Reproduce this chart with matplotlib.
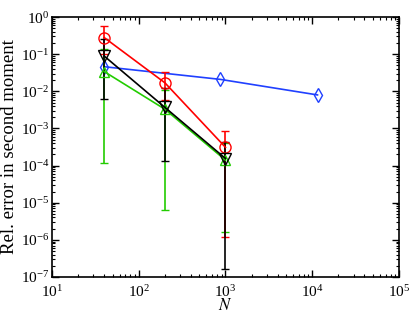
import numpy as np
import matplotlib.pyplot as plt

# data
N_main = [40, 200, 1000]
N_blue = [40, 870, 11500]

red_val = [0.28, 0.017, 3.1e-4]
red_lo = [0.10, 6e-3, 1.2e-6]
red_hi = [0.58, 0.034, 8.7e-4]

black_val = [0.089, 3.7e-3, 1.55e-4]
black_lo = [6.2e-3, 1.35e-4, 1.6e-7]
black_hi = [0.25, 0.012, 4.4e-4]

green_val = [0.034, 3.3e-3, 1.4e-4]
green_lo = [1.2e-4, 6.3e-6, 1.6e-6]
green_hi = [0.14, 0.011, 4.0e-4]

blue_val = [0.046, 0.021, 0.008]

plt.rcParams['font.family'] = ['Liberation Serif', 'DejaVu Serif']
plt.rcParams['mathtext.fontset'] = 'stix'

fig = plt.figure(figsize=(4.15, 3.22), dpi=100)
ax = fig.add_axes([0.1253, 0.1398, 0.8361, 0.8072])

def errs(val, lo, hi):
    val = np.array(val)
    return [val - np.array(lo), np.array(hi) - val]

ax.plot(N_blue, blue_val, '-d', color='#2040ff', mfc='none', ms=7, lw=1.2)
ax.errorbar(N_main, green_val, yerr=errs(green_val, green_lo, green_hi), fmt='-^',
            color='#22cc00', mfc='none', ms=7, lw=1.2, capsize=3)
ax.errorbar(N_main, red_val, yerr=errs(red_val, red_lo, red_hi), fmt='-o',
            color='red', mfc='none', ms=8, lw=1.2, capsize=3)
ax.errorbar(N_main, black_val, yerr=errs(black_val, black_lo, black_hi), fmt='-v',
            color='black', mfc='none', ms=8, lw=1.2, capsize=3)

ax.set_xscale('log')
ax.set_yscale('log')
ax.set_xlim(10, 1e5)
ax.set_ylim(1e-7, 1)
ax.set_xticks([1e1, 1e2, 1e3, 1e4, 1e5])
ax.set_yticks([10.0**k for k in range(-7, 1)])
ax.tick_params(which='both', direction='in', top=True, right=True, labelsize=11)
ax.tick_params(which='major', length=5, width=1)
ax.tick_params(which='minor', length=2.5, width=0.8)
ax.tick_params(axis='x', pad=5)
ax.tick_params(axis='y', pad=2)
for s in ax.spines.values():
    s.set_linewidth(1.2)
ax.set_xlabel('$N$', fontsize=12, labelpad=-1)
ax.set_ylabel('Rel. error in second moment', fontsize=13.5)
ax.yaxis.set_label_coords(-0.097, 0.5)

fig.savefig('out.png', dpi=100)
